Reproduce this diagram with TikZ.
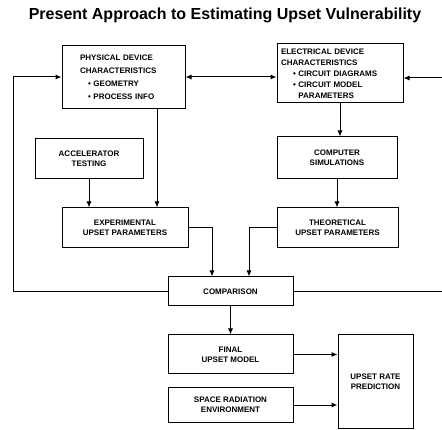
\documentclass[tikz,border=0pt]{standalone}
\usepackage{fontspec}
\setmainfont{Liberation Sans}
\usetikzlibrary{arrows.meta,calc,positioning}
\tikzset{
  >={Latex[length=6pt,width=5pt]},
  stagebox/.style={draw=black,line width=1pt,fill=white,align=center,
    inner sep=2pt,font=\fontsize{8}{10}\selectfont\bfseries},
  listbox/.style={stagebox,align=left},
  flow/.style={->,line width=1pt},
  twoway/.style={<->,line width=1pt},
  link/.style={line width=1pt},
  titlelabel/.style={font=\fontsize{16}{19}\selectfont\bfseries}
}

\begin{document}
\begin{tikzpicture}[x=1pt,y=1pt]
  \useasboundingbox (0,-430) rectangle (442,0);
  \node[titlelabel] (title) at (225,-15) {Present Approach to Estimating Upset Vulnerability};
  % device characteristics
  \node[listbox,minimum width=123pt,minimum height=63pt,text width=87pt] (phys) at (123.5,-77)
    {PHYSICAL DEVICE\\[3pt] CHARACTERISTICS\\[3pt]
     \hspace*{8pt}\textbullet\ GEOMETRY\\[3pt] \hspace*{8pt}\textbullet\ PROCESS INFO};
  \node[listbox,minimum width=126pt,minimum height=59pt,text width=118pt] (elec) at (340,-73.5)
    {ELECTRICAL DEVICE\\[1pt] CHARACTERISTICS\\[1pt]
     \hspace*{12pt}\textbullet\ CIRCUIT DIAGRAMS\\[1pt] \hspace*{12pt}\textbullet\ CIRCUIT MODEL\\[1pt]
     \hspace*{12pt}\phantom{\textbullet\ }PARAMETERS};
  % testing and simulation
  \node[stagebox,minimum width=108pt,minimum height=40pt] (accel) at (89,-159) {ACCELERATOR\\ TESTING};
  \node[stagebox,minimum width=120pt,minimum height=42pt] (sim) at (337,-158) {COMPUTER\\ SIMULATIONS};
  \node[stagebox,minimum width=126pt,minimum height=40pt] (exper) at (125,-228) {EXPERIMENTAL\\ UPSET PARAMETERS};
  \node[stagebox,minimum width=121pt,minimum height=40pt] (theor) at (337.5,-228) {THEORETICAL\\ UPSET PARAMETERS};
  % comparison and prediction
  \node[stagebox,minimum width=125pt,minimum height=29pt] (compar) at (230.5,-291.5) {COMPARISON};
  \node[stagebox,minimum width=125pt,minimum height=39pt] (final) at (230.5,-354.5) {FINAL\\ UPSET MODEL};
  \node[stagebox,minimum width=125pt,minimum height=34pt] (space) at (230.5,-405) {SPACE RADIATION\\ ENVIRONMENT};
  \node[stagebox,minimum width=75pt,minimum height=93pt] (rate) at (375.5,-381.5) {UPSET RATE\\ PREDICTION};
  % feedback ends
  \coordinate (lbend) at (13,-291.5);
  \coordinate (redgelow) at (442,-291.5);
  \coordinate (redgetop) at (442,-78);
  \coordinate (physdrop) at ([xshift=33.5pt]phys.south);

  \draw[twoway] (phys.east) -- (phys.east -| elec.west);
  \draw[flow] (compar.west) -- (lbend) |- (phys.west);
  \draw[link] (compar.east) -- (redgelow);
  \draw[flow] (redgetop) -- (redgetop -| elec.east);
  \draw[flow] (physdrop) -- (physdrop |- exper.north);
  \draw[flow] (accel.south) -- (accel.south |- exper.north);
  \draw[flow] (elec.south) -- (elec.south |- sim.north);
  \draw[flow] (sim.south) -- (sim.south |- theor.north);
  \draw[flow] (exper.east) -| ([xshift=-18.5pt]compar.north);
  \draw[flow] (theor.west) -| ([xshift=18.5pt]compar.north);
  \draw[flow] (compar.south) -- (final.north);
  \draw[flow] (final.east) -- (final.east -| rate.west);
  \draw[flow] (space.east) -- (space.east -| rate.west);
\end{tikzpicture}
\end{document}
